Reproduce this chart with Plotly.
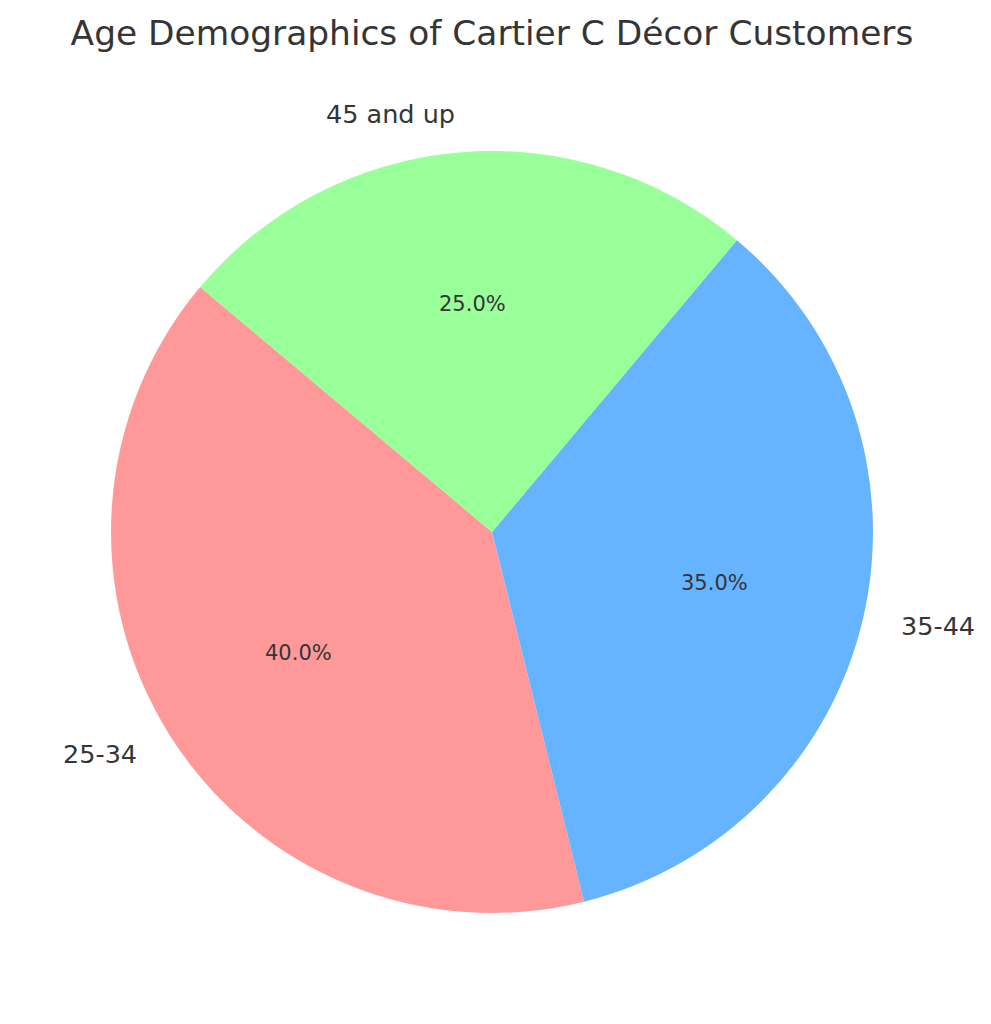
import math
import plotly.graph_objects as go

# Data
labels = ["25-34", "35-44", "45 and up"]
values = [40, 35, 25]
colors = ["#ff9999", "#66b3ff", "#99ff99"]
title_text = "Age Demographics of Cartier C Décor Customers"

# Layout constants
W, H = 991, 1024
cx, cy, r = 492, 532, 381  # pie centre and radius in pixels
start_angle = 140  # degrees, counterclockwise from 3 o'clock
text_color = "#353535"
font_family = "DejaVu Sans"

total = sum(values)
# plotly (counterclockwise): first slice occupies [rotation, rotation + span0] measured clockwise
first_span = 360 * values[0] / total
rotation = (90 - start_angle) - first_span

fig = go.Figure()
fig.add_trace(go.Pie(
    labels=labels,
    values=values,
    marker=dict(colors=colors, line=dict(width=0)),
    sort=False,
    direction="counterclockwise",
    rotation=rotation,
    textinfo="none",
    hoverinfo="label+percent",
    showlegend=False,
    domain=dict(x=[(cx - r) / W, (cx + r) / W],
                y=[1 - (cy + r) / H, 1 - (cy - r) / H]),
))

# Labels and percentages positioned from the data (matplotlib-style)
annotations = []
theta = start_angle
for lab, val in zip(labels, values):
    span = 360 * val / total
    mid = math.radians(theta + span / 2)
    theta += span
    # outer label at 1.1 r
    lx = cx + 1.1 * r * math.cos(mid)
    ly = cy - 1.1 * r * math.sin(mid)
    annotations.append(dict(
        x=lx / W, y=1 - ly / H, xref="paper", yref="paper",
        text=lab, showarrow=False,
        xanchor="left" if math.cos(mid) > 0 else "right", yanchor="middle",
        xshift=-1 if math.cos(mid) > 0 else 2,
        font=dict(family=font_family, size=25.5, color=text_color),
    ))
    # percentage at 0.6 r
    px = cx + 0.6 * r * math.cos(mid)
    py = cy - 0.6 * r * math.sin(mid)
    annotations.append(dict(
        x=px / W, y=1 - py / H, xref="paper", yref="paper",
        text=f"{100 * val / total:.1f}%", showarrow=False,
        xanchor="center", yanchor="middle",
        font=dict(family=font_family, size=21, color=text_color),
    ))

fig.update_layout(
    width=W, height=H,
    margin=dict(l=0, r=0, t=0, b=0),
    paper_bgcolor="white",
    plot_bgcolor="white",
    title=dict(text=title_text, x=cx / W, xanchor="center",
               y=1 - 33 / H, yanchor="middle", yref="container",
               font=dict(family=font_family, size=34.4, color=text_color)),
    annotations=annotations,
)

fig.write_html("out.html", config={"displayModeBar": False},
               post_script="document.body.style.margin='0px';")
